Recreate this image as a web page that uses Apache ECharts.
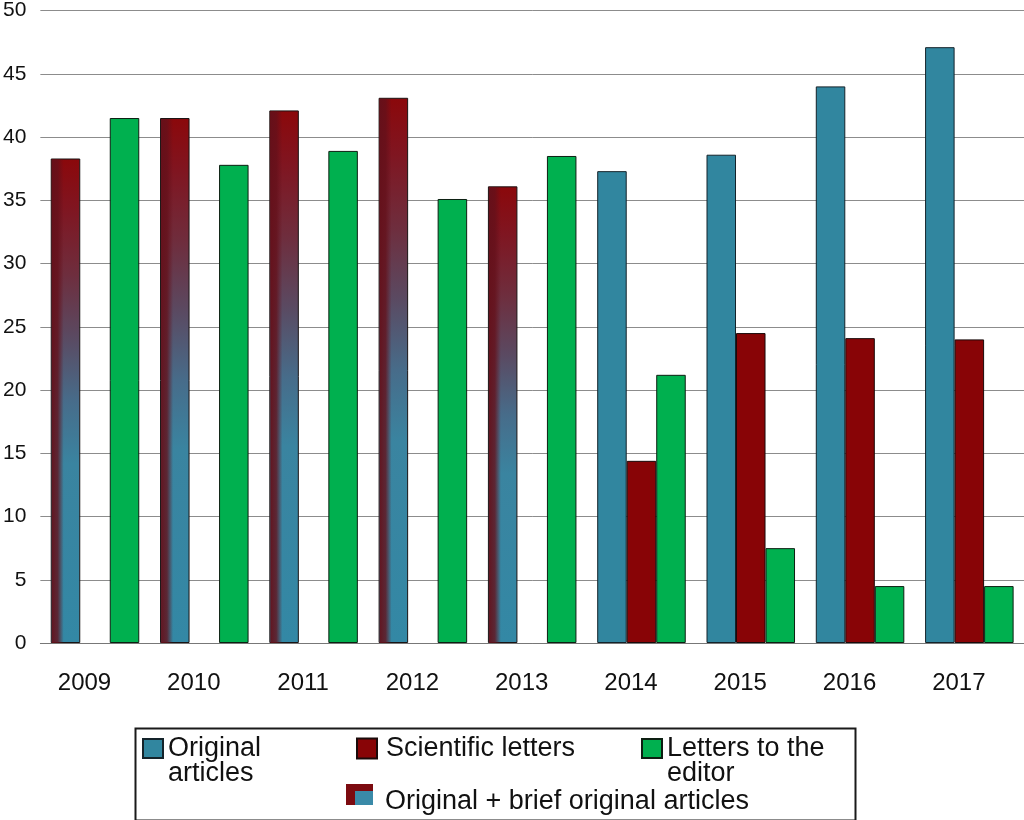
<!DOCTYPE html>
<html>
<head>
<meta charset="utf-8">
<script src="https://cdn.jsdelivr.net/npm/echarts@6/dist/echarts.min.js"></script>
<style>
html,body{margin:0;padding:0;background:#fff;}
#chart{width:1024px;height:820px;}
</style>
</head>
<body>
<div id="chart"></div>
<script>
const years = ['2009','2010','2011','2012','2013','2014','2015','2016','2017'];
const originalArticles = [null, null, null, null, null, 37.3, 38.6, 44.0, 47.1];
const originalPlusBrief = [38.3, 41.5, 42.1, 43.1, 36.1, null, null, null, null];
const scientificLetters = [null, null, null, null, null, 14.4, 24.5, 24.1, 24.0];
const lettersToEditor = [41.5, 37.8, 38.9, 35.1, 38.5, 21.2, 7.5, 4.5, 4.5];
const yTicks = { min: 0, max: 50, interval: 5 };

const TEAL = '#31869f';
const RED = '#880406';
const GREEN = '#00b04f';
const FONT = 'Liberation Sans, Arial, Helvetica, sans-serif';
const CAT_GAP = 0.19;

const comboGradient = new echarts.graphic.LinearGradient(0, 0, 0, 1, [
  { offset: 0, color: '#8b080b' },
  { offset: 0.1, color: '#801520' },
  { offset: 0.24, color: '#6e2e3e' },
  { offset: 0.37, color: '#5a4a62' },
  { offset: 0.5, color: '#476c8a' },
  { offset: 0.63, color: '#3a84a0' },
  { offset: 1, color: '#3388a5' }
]);

const comboIcon = 'image://data:image/svg+xml;utf8,' + encodeURIComponent(
  "<svg xmlns='http://www.w3.org/2000/svg' width='27' height='21'>" +
  "<rect width='27' height='21' fill='#7c0b10'/>" +
  "<rect x='9' y='7' width='18' height='14' fill='#3a8aa8'/></svg>");

const chart = echarts.init(document.getElementById('chart'), null, { renderer: 'canvas' });

const legendText = { fontFamily: FONT, fontSize: 27, color: '#111', lineHeight: 25 };

chart.setOption({
  backgroundColor: '#ffffff',
  animation: false,
  grid: { left: 38, right: 0, top: 10, bottom: 177, containLabel: false },
  legend: [
    {
      data: ['Original articles'], selectedMode: false, icon: 'rect',
      left: 142, top: 710, padding: 0, itemWidth: 20, itemHeight: 19,
      formatter: () => '\nOriginal\narticles',
      textStyle: Object.assign({}, legendText)
    },
    {
      data: ['Scientific letters'], selectedMode: false, icon: 'rect',
      left: 356, top: 735, padding: 0, itemWidth: 20, itemHeight: 20,
      textStyle: Object.assign({}, legendText, { padding: [0, 0, 0, 4] })
    },
    {
      data: ['Letters to the editor'], selectedMode: false, icon: 'rect',
      left: 641, top: 710, padding: 0, itemWidth: 20, itemHeight: 19,
      formatter: () => '\nLetters to the\neditor',
      textStyle: Object.assign({}, legendText)
    },
    {
      data: [{ name: 'Original + brief original articles', icon: comboIcon }], selectedMode: false,
      left: 346, top: 775, padding: 0, itemWidth: 27, itemHeight: 21,
      formatter: (name) => '{s| }\n{b|' + name + '}',
      textStyle: Object.assign({}, legendText, {
        padding: [0, 0, 0, 7],
        rich: {
          s: { fontSize: 10, lineHeight: 14 },
          b: { fontFamily: FONT, fontSize: 27, lineHeight: 25, color: '#111' }
        }
      })
    }
  ],
  graphic: [
    {
      type: 'rect', left: 133, top: 726, z: 100, silent: true,
      shape: { width: 720, height: 92 },
      style: { fill: null, stroke: '#1a1a1a', lineWidth: 2 }
    }
  ],
  xAxis: {
    type: 'category',
    data: years,
    axisLine: { show: true, lineStyle: { color: '#777', width: 1 } },
    axisTick: { show: false },
    axisLabel: { fontFamily: FONT, fontSize: 24, color: '#111', margin: 28, padding: [0, 21, 0, 0] },
    splitLine: { show: false }
  },
  yAxis: {
    type: 'value',
    min: yTicks.min, max: yTicks.max, interval: yTicks.interval,
    axisLine: { show: false },
    axisTick: { show: false },
    axisLabel: { fontFamily: FONT, fontSize: 21, color: '#111', margin: 14 },
    splitLine: { show: true, lineStyle: { color: '#8c8c8c', width: 1 } }
  },
  series: [
    {
      name: 'Original articles', type: 'bar', stack: 'orig',
      data: originalArticles,
      barGap: '0%', barCategoryGap: (CAT_GAP * 100) + '%',
      itemStyle: { color: TEAL, borderColor: '#14232a', borderWidth: 1 }
    },
    {
      name: 'Original + brief original articles', type: 'bar', stack: 'orig',
      data: originalPlusBrief,
      itemStyle: { color: comboGradient, borderColor: '#1a1414', borderWidth: 1 }
    },
    {
      name: 'Scientific letters', type: 'bar',
      data: scientificLetters,
      itemStyle: { color: RED, borderColor: '#1a0a0a', borderWidth: 1 }
    },
    {
      name: 'Letters to the editor', type: 'bar',
      data: lettersToEditor,
      barGap: '0%', barCategoryGap: (CAT_GAP * 100) + '%',
      itemStyle: { color: GREEN, borderColor: '#0d1f12', borderWidth: 1 }
    },
    {
      // left-edge shading of the combined bars (same data, same scales)
      type: 'custom', silent: true, z: 3,
      data: originalPlusBrief.map((v, i) => [i, v == null ? NaN : v]),
      renderItem: function (params, api) {
        const v = api.value(1);
        if (v == null || isNaN(v)) return null;
        const top = api.coord([api.value(0), v]);
        const base = api.coord([api.value(0), 0]);
        const band = api.size([1, 0])[0];
        const left = top[0] - band * (1 - CAT_GAP) / 2;
        return {
          type: 'rect',
          shape: { x: left + 1, y: top[1] + 1, width: 12, height: base[1] - top[1] - 1 },
          style: {
            fill: new echarts.graphic.LinearGradient(0, 0, 1, 0, [
              { offset: 0, color: 'rgba(100,16,26,0.95)' },
              { offset: 0.5, color: 'rgba(100,16,26,0.8)' },
              { offset: 1, color: 'rgba(100,16,26,0)' }
            ])
          }
        };
      }
    }
  ]
});
</script>
</body>
</html>
